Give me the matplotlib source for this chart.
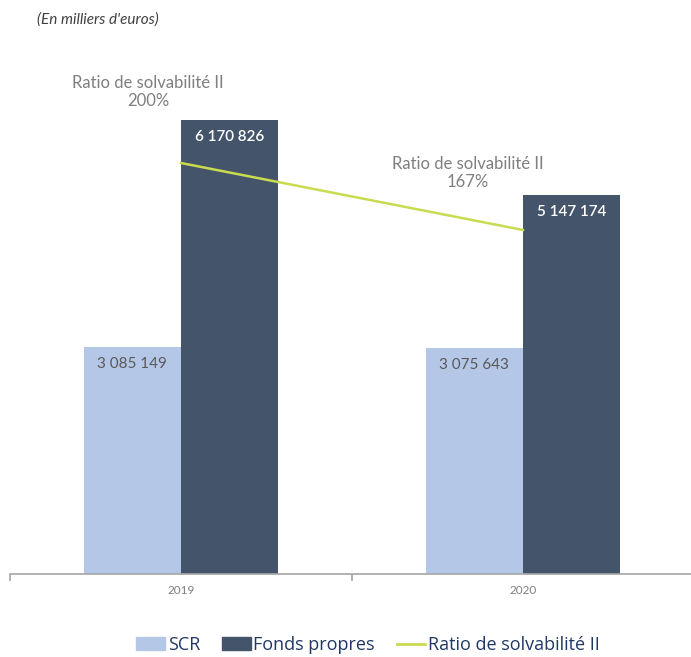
import matplotlib
matplotlib.use("Agg")
import matplotlib.pyplot as plt
from matplotlib.lines import Line2D
from matplotlib.patches import Patch
import numpy as np

plt.rcParams["font.family"] = ["Lato", "DejaVu Sans"]

years = ["2019", "2020"]
scr = [3085149, 3075643]
fonds_propres = [6170826, 5147174]
ratio = [200, 167]

SCR_COLOR = "#b4c7e7"
FP_COLOR = "#44546a"
LINE_COLOR = "#c9dc50"
GRAY = "#7f7f7f"

def fmt(v):
    return f"{v:,}".replace(",", " ")

W, H = 691, 657
fig = plt.figure(figsize=(W / 100, H / 100), dpi=100)
# axes from px x=10..694, y=40..574
ax = fig.add_axes([10 / W, (H - 574) / H, 684 / W, 534 / H])

x = np.arange(len(years))
bw = 0.284
ax.bar(x - bw / 2, scr, bw, color=SCR_COLOR, zorder=2)
ax.bar(x + bw / 2, fonds_propres, bw, color=FP_COLOR, zorder=2)

# 7.357e-5 px per euro (thousands)
ax.set_ylim(0, 534 / 7.357e-5)
ax.set_xlim(-0.5, 1.5)

for i in range(len(years)):
    ax.annotate(fmt(scr[i]), (x[i] - bw / 2, scr[i]), xytext=(0, -17),
                textcoords="offset pixels", ha="center", va="center",
                fontsize=11, color="#595959")
    ax.annotate(fmt(fonds_propres[i]), (x[i] + bw / 2, fonds_propres[i]), xytext=(0, -17),
                textcoords="offset pixels", ha="center", va="center",
                fontsize=11, color="white", fontweight="semibold")

for s in ["top", "right", "left"]:
    ax.spines[s].set_visible(False)
ax.spines["bottom"].set_color("#a6a6a6")
ax.spines["bottom"].set_linewidth(1.2)
ax.set_yticks([])
ax.set_xticks([-0.5, 0.5, 1.5])
ax.set_xticklabels([])
ax.tick_params(axis="x", length=5, color="#a6a6a6", width=1.2, direction="out")
for i, yr in enumerate(years):
    ax.annotate(yr, (x[i], 0), xytext=(0, -17), textcoords="offset pixels",
                ha="center", va="center", fontsize=8.5, color=GRAY)

ax2 = ax.twinx()
# 0% at px 569, 2.03 px per point
ax2.set_ylim(-5 / 2.03, 529 / 2.03)
ax2.plot(x, ratio, color=LINE_COLOR, lw=1.8, zorder=3)
ax2.axis("off")

label_offsets = [(-33, 71), (-55, 57)]
for i in range(len(years)):
    ax2.annotate(f"Ratio de solvabilité II\n{ratio[i]}%", (x[i], ratio[i]),
                 xytext=label_offsets[i], textcoords="offset pixels",
                 ha="center", va="center", fontsize=12, color=GRAY,
                 linespacing=1.15)

fig.text(37 / W, 1 - 20 / H, "(En milliers d'euros)", ha="left", va="center",
         fontsize=11, style="italic", color="#404040")

handles = [Patch(color=SCR_COLOR), Patch(color=FP_COLOR),
           Line2D([0], [0], color=LINE_COLOR, lw=2)]
fig.legend(handles, ["SCR", "Fonds propres", "Ratio de solvabilité II"],
           loc="center", bbox_to_anchor=(368 / W, 1 - 645 / H), ncol=3,
           frameon=False, labelcolor="#203864", borderpad=0.2,
           handlelength=1.6, handletextpad=0.15, columnspacing=1.2,
           prop={"family": ["Open Sans", "DejaVu Sans"], "size": 13})

fig.savefig("out.png", dpi=100)
